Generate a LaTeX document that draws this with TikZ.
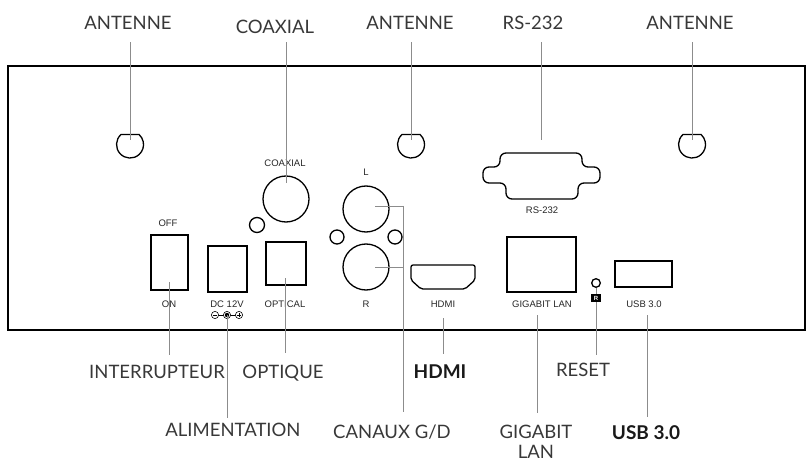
\documentclass[tikz,border=0pt]{standalone}
\usepackage{fontspec}
\setmainfont{Lato}
\newfontfamily\panelfont{Liberation Sans}
\begin{document}
\begin{tikzpicture}[x=1pt, y=-1pt,
    biglabel/.style={font=\fontsize{18.5}{20.5}\selectfont, text=black!78, inner sep=0pt, align=center},
    boldlabel/.style={biglabel, font=\fontsize{19}{21}\selectfont\bfseries, text=black!90},
    panellabel/.style={font=\panelfont\fontsize{9.5}{11}\selectfont, text=black!85, inner sep=0pt},
    port/.style={draw=black, line width=1.3pt},
    leader/.style={draw=black!45, line width=0.7pt}]

    \useasboundingbox (0,0) rectangle (810,462);

    % Back panel outline
    \draw[line width=1.8pt] (8,66) rectangle (805,330);

    % Antennas (circles with a flat top)
    \foreach \ax/\nm in {130/ant1, 411/ant2, 692/ant3}{
        \draw[port] (\ax-9,134.5) arc[start angle=228, end angle=-48, radius=13.5] -- cycle;
        \coordinate (\nm) at (\ax,140);
    }

    % Coaxial and optical
    \draw[port] (286,199) circle[radius=23];
    \draw[port] (257,225) circle[radius=7.5];
    \coordinate (coax) at (286,183);
    \draw[port] (266,242) rectangle (306,285);
    \coordinate (opt) at (285,278);

    % Audio L / R
    \draw[port] (366,209) circle[radius=23];
    \draw[port] (366,267) circle[radius=23];
    \draw[port] (337,237) circle[radius=7];
    \draw[port] (395,237) circle[radius=7];
    \coordinate (chL) at (375,206);
    \coordinate (chR) at (375,267);
    \coordinate (chJ) at (403,206);

    % Switch and power jack
    \draw[port] (151,235) rectangle (188,290);
    \coordinate (sw) at (169,282);
    \draw[port] (208,246) rectangle (247,292);
    \coordinate (dc) at (227,315);

    % HDMI
    \draw[port, rounded corners=2pt] (411,265) -- (475,265) -- (475,280) -- (465,289)
        -- (421,289) -- (411,280) -- cycle;
    \coordinate (hdmi) at (443,318);

    % RS-232
    \draw[port, rounded corners=6pt] (500,153) -- (582,153) -- (582,167) -- (600,167)
        -- (600,183) -- (578,183) -- (578,199) -- (506,199) -- (506,183) -- (483,183)
        -- (483,167) -- (500,167) -- cycle;
    \coordinate (rs) at (541,140);

    % LAN, reset, USB
    \draw[port] (507,237) rectangle (576,292);
    \coordinate (lan) at (537,315);
    \draw[port] (596,283) circle[radius=4.3];
    \coordinate (rst) at (596,287.5);
    \draw[port] (615,261) rectangle (672,287);
    \coordinate (usb) at (647,315);

    % Power symbol
    \draw[line width=0.6pt] (215,315) -- (239,315);
    \draw[line width=0.6pt, fill=white] (215,315) circle[radius=3.6];
    \draw[line width=0.6pt] (213,315) -- (217,315);
    \draw[line width=0.6pt, fill=white] (227,315) circle[radius=3.6];
    \fill (227,315) circle[radius=2.2];
    \draw[line width=0.6pt, fill=white] (239,315) circle[radius=3.6];
    \draw[line width=0.6pt] (237,315) -- (241,315) (239,313) -- (239,317);

    % Panel printing
    \node[panellabel] (tOff) at (168,223) {OFF};
    \node[panellabel] (tOn) at (169,304) {ON};
    \node[panellabel] (tDc) at (227,304) {DC 12V};
    \node[panellabel] (tOpt) at (285,304) {OPTICAL};
    \node[panellabel] (tCoax) at (285,163) {COAXIAL};
    \node[panellabel] (tL) at (366,172) {L};
    \node[panellabel] (tR) at (366,304) {R};
    \node[panellabel] (tHdmi) at (443,304) {HDMI};
    \node[panellabel] (tRs) at (542,210) {RS-232};
    \node[panellabel] (tLan) at (542,304) {GIGABIT LAN};
    \node[panellabel] (tUsb) at (644,304) {USB 3.0};

    % Callout labels
    \node[biglabel] (lAnt1) at (128,23) {ANTENNE};
    \node[biglabel] (lCoax) at (275,27) {COAXIAL};
    \node[biglabel] (lAnt2) at (410,23) {ANTENNE};
    \node[biglabel] (lRs) at (533,23) {RS-232};
    \node[biglabel] (lAnt3) at (690,23) {ANTENNE};
    \node[biglabel] (lSw) at (157,372) {INTERRUPTEUR};
    \node[biglabel] (lOpt) at (283,373) {OPTIQUE};
    \node[boldlabel] (lHdmi) at (440,372) {HDMI};
    \node[biglabel] (lRst) at (583,370) {RESET};
    \node[biglabel] (lDc) at (233,430) {ALIMENTATION};
    \node[biglabel] (lCh) at (392,432) {CANAUX G/D};
    \node[biglabel, anchor=north] (lLan) at (536,424.5) {GIGABIT\\LAN};
    \node[boldlabel] (lUsb) at (646,433) {USB 3.0};

    % Leader lines, top
    \draw[leader, shorten <=12.5pt] (ant1 |- lAnt1.south) -- (ant1);
    \draw[leader, shorten <=8.5pt] (coax |- lCoax.south) -- (coax);
    \draw[leader, shorten <=12.5pt] (ant2 |- lAnt2.south) -- (ant2);
    \draw[leader, shorten <=12.5pt] (rs |- lRs.south) -- (rs);
    \draw[leader, shorten <=12.5pt] (ant3 |- lAnt3.south) -- (ant3);

    % Leader lines, bottom
    \draw[leader, shorten >=10.5pt] (sw) -- (sw |- lSw.north);
    \draw[leader, shorten >=5.5pt] (dc) -- (dc |- lDc.north);
    \draw[leader, shorten >=11.5pt] (opt) -- (opt |- lOpt.north);
    \draw[leader] (chL) -- (chJ);
    \draw[leader] (chR) -- (chR -| chJ);
    \draw[leader, shorten >=12.5pt] (chJ) -- (chJ |- lCh.north);
    \draw[leader, shorten >=10.5pt] (hdmi) -- (hdmi |- lHdmi.north);
    \draw[leader, shorten >=11.5pt] (lan) -- (lan |- lLan.north);
    \draw[leader, shorten >=8.5pt] (rst) -- (rst |- lRst.north);
    \draw[leader, shorten >=8.5pt] (usb) -- (usb |- lUsb.north);

    % Reset mark
    \node[fill=black, text=white, font=\panelfont\fontsize{6}{6}\selectfont\bfseries,
        inner sep=0pt, minimum width=9.5pt, minimum height=8.5pt] (rstMark) at (596,298) {R};

\end{tikzpicture}
\end{document}
